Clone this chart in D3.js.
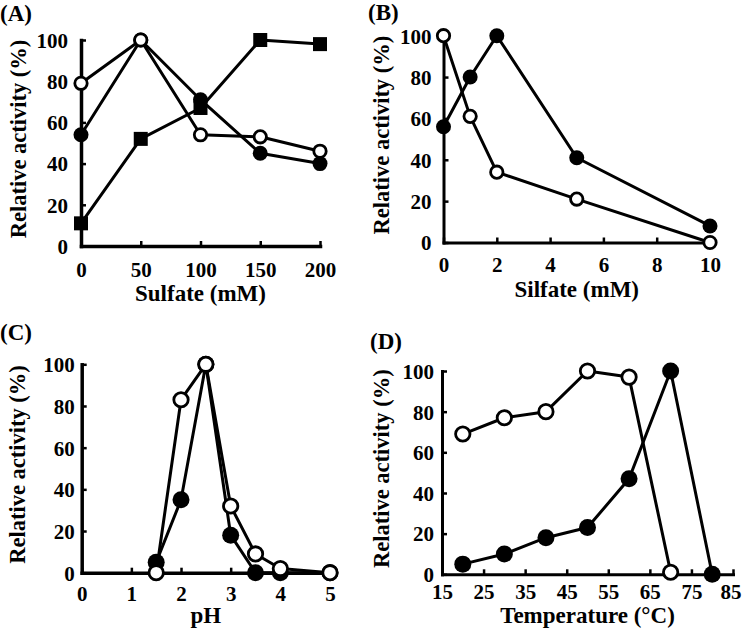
<!DOCTYPE html>
<html>
<head>
<meta charset="utf-8">
<script src="https://cdn.jsdelivr.net/npm/d3@7"></script>
<style>
  html, body { margin: 0; padding: 0; background: #fff; }
  svg text { font-family: "Liberation Serif", "Times New Roman", serif; font-weight: bold; fill: #000; }
</style>
</head>
<body>
<svg id="chart" width="742" height="631"></svg>
<script>
// ---- Data ----
const yTicks = [0, 20, 40, 60, 80, 100];

const aX = [0, 50, 100, 150, 200];
const aFilled = [54, 100, 71, 45, 40];
const aOpen = [79, 100, 54, 53, 46];
const aSquare = [11, 52, 67, 100, 98];
const aTicks = [0, 50, 100, 150, 200];

const bX = [0, 1, 2, 5, 10];
const bFilled = [56, 80, 100, 41, 8];
const bOpen = [100, 61, 34, 21, 0];
const bTicks = [0, 2, 4, 6, 8, 10];

const cX = [1.5, 2, 2.5, 3, 3.5, 4, 5];
const cFilled = [5, 35, 100, 18, 0, 0, 0];
const cOpen = [0, 83, 100, 32, 9, 2, 0];
const cTicks = [0, 1, 2, 3, 4, 5];

const dXOpen = [20, 30, 40, 50, 60, 70];
const dOpen = [69, 77, 80, 100, 97, 1];
const dXFilled = [20, 30, 40, 50, 60, 70, 80];
const dFilled = [5, 10, 18, 23, 47, 100, 0];
const dTicks = [15, 25, 35, 45, 55, 65, 75, 85];

const svg = d3.select("#chart");

function panel(cfg) {
  const g = svg.append("g");
  const x = d3.scaleLinear().domain(cfg.xDomain).range([cfg.x0, cfg.x1]);
  const y = d3.scaleLinear().domain([0, 100]).range([cfg.y0, cfg.y1]);

  // panel label
  g.append("text").attr("x", cfg.lx).attr("y", cfg.ly)
    .style("font-size", "23px").text(cfg.label);

  // axes
  const xa = g.append("g").attr("transform", `translate(0,${cfg.y0})`)
    .call(d3.axisBottom(x).tickValues(cfg.xTicks).tickSizeInner(-5).tickSizeOuter(0)
      .tickPadding(cfg.xPad).tickFormat(d3.format("d")));
  const ya = g.append("g").attr("transform", `translate(${cfg.x0},0)`)
    .call(d3.axisLeft(y).tickValues(yTicks).tickSizeInner(-5).tickSizeOuter(0)
      .tickPadding(cfg.yPad).tickFormat(d3.format("d")));
  [xa, ya].forEach(a => {
    a.select(".domain").attr("stroke", "#000").attr("stroke-width", cfg.axisW).attr("stroke-linecap", "square");
    a.selectAll(".tick line").attr("stroke", "#000").attr("stroke-width", 2.5);
    a.selectAll(".tick text").style("font-size", "21px").attr("fill", "#000");
  });
  ya.selectAll(".tick text").attr("dy", "0.35em");
  if (cfg.lastDx) {
    xa.selectAll(".tick text").filter((d, i, n) => i === n.length - 1).attr("dx", cfg.lastDx);
  }

  // axis titles
  g.append("text").attr("x", (cfg.x0 + cfg.x1) / 2).attr("y", cfg.xtY)
    .attr("text-anchor", "middle").style("font-size", "23px").text(cfg.xTitle);
  g.append("text").attr("transform", `translate(${cfg.ytX},${(cfg.y0 + cfg.y1) / 2 - 4}) rotate(-90)`)
    .attr("text-anchor", "middle").attr("dy", "0.35em").style("font-size", "22.5px").text("Relative activity (%)");

  const line = d3.line().x(d => x(d[0])).y(d => y(d[1]));

  cfg.series.forEach(s => {
    const pts = s.xs.map((v, i) => [v, s.ys[i]]);
    g.append("path").datum(pts).attr("d", line)
      .attr("fill", "none").attr("stroke", "#000").attr("stroke-width", 3).attr("stroke-linejoin", "round");
  });
  cfg.series.forEach(s => {
    const pts = s.xs.map((v, i) => [v, s.ys[i]]);
    if (s.type === "square") {
      g.selectAll(null).data(pts).enter().append("rect")
        .attr("x", d => x(d[0]) - cfg.sq / 2).attr("y", d => y(d[1]) - cfg.sq / 2)
        .attr("width", cfg.sq).attr("height", cfg.sq).attr("fill", "#000");
    } else {
      g.selectAll(null).data(pts).enter().append("circle")
        .attr("cx", d => x(d[0])).attr("cy", d => y(d[1]))
        .attr("r", s.type === "open" ? cfg.r - 1.3 : cfg.r)
        .attr("fill", s.type === "open" ? "#fff" : "#000")
        .attr("stroke", "#000").attr("stroke-width", s.type === "open" ? 2.8 : 0);
    }
  });
}

panel({
  label: "(A)", lx: 0, ly: 21,
  xDomain: [0, 200], x0: 81, x1: 320, y0: 246, y1: 40,
  xTicks: aTicks, xPad: 16, yPad: 13, axisW: 3.5,
  xTitle: "Sulfate (mM)", xtY: 301, ytX: 18, r: 7.5, sq: 14,
  series: [
    { xs: aX, ys: aFilled, type: "filled" },
    { xs: aX, ys: aOpen, type: "open" },
    { xs: aX, ys: aSquare, type: "square" }
  ]
});

panel({
  label: "(B)", lx: 368, ly: 20,
  xDomain: [0, 10], x0: 443.5, x1: 710, y0: 242.5, y1: 35.7,
  xTicks: bTicks, xPad: 15, yPad: 12, axisW: 3,
  xTitle: "Silfate (mM)", xtY: 297, ytX: 381.5, r: 7.5, sq: 14,
  series: [
    { xs: bX, ys: bFilled, type: "filled" },
    { xs: bX, ys: bOpen, type: "open" }
  ]
});

panel({
  label: "(C)", lx: 0, ly: 340,
  xDomain: [0, 5], x0: 81.7, x1: 330, y0: 572.7, y1: 364.3,
  xTicks: cTicks, xPad: 13, yPad: 7, axisW: 3.5,
  xTitle: "pH", xtY: 623, ytX: 17, r: 8.5, sq: 14,
  series: [
    { xs: cX, ys: cFilled, type: "filled" },
    { xs: cX, ys: cOpen, type: "open" }
  ]
});

panel({
  label: "(D)", lx: 370, ly: 349,
  xDomain: [15, 85], x0: 442, x1: 733, y0: 574.3, y1: 371,
  xTicks: dTicks, xPad: 10, yPad: 8, axisW: 3, lastDx: -2.5,
  xTitle: "Temperature (°C)", xtY: 623, ytX: 381, r: 8.5, sq: 14,
  series: [
    { xs: dXFilled, ys: dFilled, type: "filled" },
    { xs: dXOpen, ys: dOpen, type: "open" }
  ]
});
</script>
</body>
</html>
